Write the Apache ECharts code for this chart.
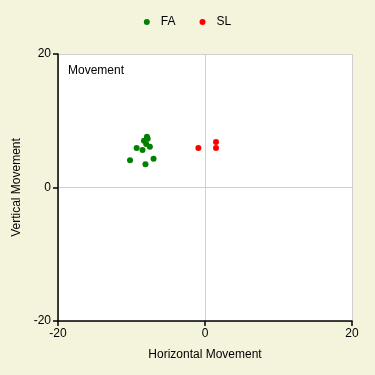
<!DOCTYPE html>
<html><head><meta charset="utf-8">
<script src="https://cdn.jsdelivr.net/npm/echarts@6/dist/echarts.min.js"></script>
<style>html,body{margin:0;padding:0;background:#f4f3dc;}#c{width:375px;height:375px;}</style>
</head><body><div id="c"></div>
<script>
const seriesNames = ['FA', 'SL'];
const faX = [-7.9, -7.8, -8.3, -8.0, -9.3, -8.5, -7.5, -10.2, -8.1, -7.0];
const faY = [7.6, 7.3, 7.0, 6.5, 5.9, 5.6, 6.1, 4.1, 3.5, 4.3];
const slX = [-0.9, 1.5, 1.5];
const slY = [5.9, 6.8, 5.9];
const axisTicks = [-20, 0, 20];
const colors = ['#008000', '#ff0000'];

const font = 'Liberation Sans, Arial, sans-serif';
const pair = (xs, ys) => xs.map((x, i) => [x, ys[i]]);
const chart = echarts.init(document.getElementById('c'));
const axisCommon = {
  min: axisTicks[0], max: axisTicks[axisTicks.length - 1], interval: 20,
  axisLine: { onZero: false, lineStyle: { color: '#000', width: 1.5 } },
  axisTick: { show: true, length: 5, lineStyle: { color: '#000', width: 1.5 } },
  axisLabel: { color: '#000', fontSize: 12, fontFamily: font, margin: 7 },
  splitLine: { show: true, lineStyle: { color: '#d0d0d0', width: 1 } },
  nameLocation: 'middle',
  nameTextStyle: { color: '#000', fontSize: 12, fontFamily: font }
};
chart.setOption({
  backgroundColor: '#f4f3dc',
  animation: false,
  legend: {
    top: 11, left: 'center', itemGap: 24,
    icon: 'circle', itemWidth: 6, itemHeight: 6,
    textStyle: { color: '#000', fontSize: 12, fontFamily: font, padding: [0, 0, 0, 6] },
    data: seriesNames
  },
  grid: { left: 58, right: 23, top: 54, bottom: 54, show: true, backgroundColor: '#fff', borderWidth: 0 },
  title: { text: 'Movement', left: 63, top: 60, textStyle: { fontSize: 12, fontWeight: 'normal', color: '#000', fontFamily: font } },
  xAxis: Object.assign({}, axisCommon, { type: 'value', name: 'Horizontal Movement', nameGap: 28 }),
  yAxis: Object.assign({}, axisCommon, { type: 'value', name: 'Vertical Movement', nameGap: 27 }),
  series: [
    { name: seriesNames[0], type: 'scatter', symbolSize: 6, itemStyle: { color: colors[0], opacity: 1 }, data: pair(faX, faY) },
    { name: seriesNames[1], type: 'scatter', symbolSize: 6, itemStyle: { color: colors[1], opacity: 1 }, data: pair(slX, slY) }
  ]
});
</script></body></html>
